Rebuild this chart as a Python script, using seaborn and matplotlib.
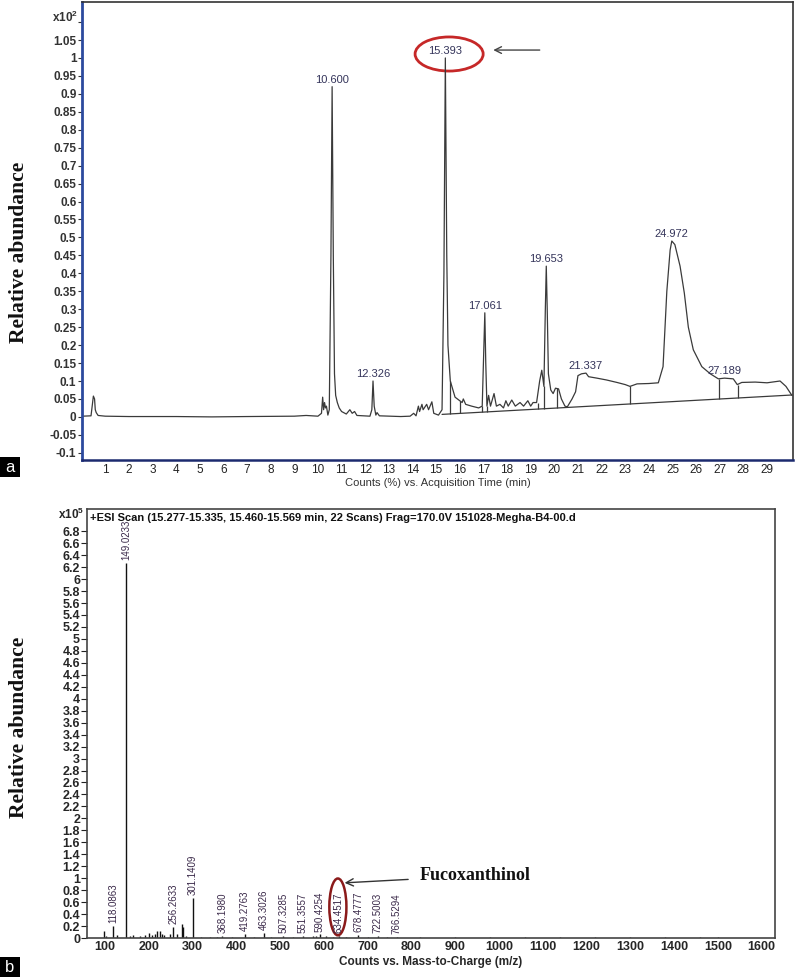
# -*- coding: utf-8 -*-
# LC chromatogram (a) and ESI mass spectrum (b) of the 15.39 min peak

import numpy as np
import pandas as pd
import matplotlib
matplotlib.use("Agg")
import matplotlib.pyplot as plt
from matplotlib.patches import Ellipse, Rectangle
import seaborn as sns

### 1) Data

# (a) chromatogram: retention time (min) and relative abundance (x10^2)
rt_min = [0.05, 0.40, 0.45, 0.50, 0.55, 0.58, 0.62, 0.70, 1.0, 2.0, 4.0, 5.5, 7.0, 9.0, 9.5,
          10.0, 10.15, 10.2, 10.24, 10.28, 10.32, 10.36, 10.42, 10.48, 10.55, 10.6, 10.65,
          10.7, 10.75, 10.82, 10.9, 11.0, 11.2, 11.35, 11.45, 11.55, 11.65, 12.2, 12.28,
          12.33, 12.38, 12.45, 12.5, 12.6, 13.5, 13.9, 14.05, 14.15, 14.25, 14.3, 14.4,
          14.45, 14.6, 14.68, 14.82, 14.9, 15.1, 15.25, 15.33, 15.39, 15.45, 15.5, 15.6,
          15.8, 16.0, 16.1, 16.15, 16.25, 16.5, 16.8, 16.95, 17.02, 17.06, 17.1, 17.15,
          17.22, 17.3, 17.45, 17.55, 17.7, 17.85, 17.95, 18.05, 18.2, 18.35, 18.55, 18.7,
          18.88, 19.0, 19.1, 19.25, 19.38, 19.47, 19.56, 19.62, 19.66, 19.7, 19.75, 19.85,
          19.95, 20.05, 20.18, 20.3, 20.45, 20.55, 20.75, 20.9, 21.0, 21.15, 21.34, 21.45,
          21.8, 22.2, 22.65, 23.0, 23.2, 23.5, 24.0, 24.4, 24.6, 24.76, 24.9, 24.97, 25.1,
          25.32, 25.5, 25.67, 25.88, 26.24, 26.6, 26.94, 27.2, 27.57, 27.74, 27.93, 28.5,
          29.0, 29.55, 29.8, 30.05]
abund = [0.002, 0.003, 0.03, 0.058, 0.05, 0.02, 0.012, 0.004, 0.002, 0.001, 0.001, 0.0, 0.001, 0.002, 0.004,
         0.002, 0.01, 0.055, 0.02, 0.04, 0.025, 0.03, 0.005, 0.02, 0.45, 0.92, 0.45,
         0.12, 0.06, 0.04, 0.025, 0.015, 0.008, 0.02, 0.01, 0.015, 0.004, 0.002, 0.02,
         0.10, 0.03, 0.005, 0.012, 0.003, 0.001, 0.002, 0.01, 0.003, 0.03, 0.015, 0.035,
         0.02, 0.035, 0.02, 0.042, 0.01, 0.005, 0.02, 0.4, 1.0, 0.45, 0.2, 0.10,
         0.055, 0.045, 0.04, 0.05, 0.035, 0.03, 0.025, 0.03, 0.2, 0.29, 0.15, 0.03,
         0.06, 0.03, 0.065, 0.03, 0.035, 0.025, 0.045, 0.03, 0.047, 0.03, 0.04, 0.03,
         0.045, 0.03, 0.04, 0.04, 0.10, 0.13, 0.085, 0.3, 0.42, 0.3, 0.12, 0.075,
         0.065, 0.08, 0.078, 0.05, 0.03, 0.028, 0.05, 0.07, 0.115, 0.12, 0.122, 0.112,
         0.108, 0.103, 0.096, 0.09, 0.085, 0.092, 0.093, 0.095, 0.14, 0.35, 0.465, 0.49, 0.48,
         0.42, 0.345, 0.25, 0.187, 0.14, 0.12, 0.106, 0.108, 0.106, 0.09, 0.096, 0.097,
         0.095, 0.10, 0.085, 0.06]

peak_rt = [10.6, 12.33, 15.39, 17.06, 19.66, 21.34, 24.97, 27.2]
peak_top = [0.92, 0.10, 1.0, 0.29, 0.42, 0.122, 0.49, 0.108]
peak_lbl = ["10.600", "12.326", "15.393", "17.061", "19.653", "21.337", "24.972", "27.189"]

# integration baseline and drop lines
base_rt = [15.25, 30.05]
base_val = [0.007, 0.061]
drop_rt = [15.6, 16.0, 16.95, 17.15, 19.3, 19.56, 20.1, 23.2, 26.98, 27.76]
drop_top = [0.10, 0.045, 0.03, 0.03, 0.04, 0.085, 0.08, 0.085, 0.106, 0.09]

# (b) mass spectrum: m/z and counts (x10^5)
ms_mz = [98, 102, 118.0863, 127, 149.0233, 157, 164, 180, 191, 200, 207, 214, 220, 226, 231,
         236, 248, 256.2633, 265, 275, 279, 286, 301.1409, 320, 340, 355, 368.198, 390,
         419.2763, 440, 463.3026, 480, 507.3285, 530, 551.3557, 575, 582, 590.4254, 605,
         620, 634.4517, 650, 678.4777, 700, 722.5003, 745, 766.5294, 820, 900, 980, 1060,
         1140, 1220, 1300, 1380, 1460, 1500]
ms_int = [0.11, 0.04, 0.20, 0.05, 6.27, 0.04, 0.05, 0.04, 0.05, 0.08, 0.05, 0.07, 0.12, 0.11, 0.06,
          0.05, 0.06, 0.19, 0.06, 0.23, 0.18, 0.04, 0.67, 0.02, 0.02, 0.02, 0.03, 0.02,
          0.07, 0.02, 0.08, 0.02, 0.04, 0.02, 0.03, 0.04, 0.03, 0.06, 0.03,
          0.02, 0.03, 0.02, 0.05, 0.02, 0.03, 0.015, 0.02, 0.015, 0.015, 0.015, 0.015,
          0.015, 0.015, 0.015, 0.015, 0.015, 0.015]
ms_lbl_mz = [118.0863, 149.0233, 256.2633, 301.1409, 368.198, 419.2763, 463.3026,
             507.3285, 551.3557, 590.4254, 634.4517, 678.4777, 722.5003, 766.5294]

chrom = pd.DataFrame({"rt": rt_min, "abund": abund})
spec = pd.DataFrame({"mz": ms_mz, "counts": ms_int})

### 2) Style
sns.set_theme(style="white")
plt.rcParams["font.family"] = ["Liberation Sans", "DejaVu Sans"]
plt.rcParams["mathtext.default"] = "regular"

fig = plt.figure(figsize=(7.98, 9.77), dpi=100)
ax1 = fig.add_axes([0.1028, 0.5292, 0.891, 0.4688])
ax2 = fig.add_axes([0.109, 0.0399, 0.862, 0.439])

### 3) Panel a - chromatogram
sns.lineplot(data=chrom, x="rt", y="abund", ax=ax1, color="#3a3a3a", lw=0.9,
             sort=False, estimator=None)
ax1.plot(base_rt, base_val, color="#3a3a3a", lw=0.9)
drop_base = np.interp(drop_rt, base_rt, base_val)
ax1.vlines(drop_rt, drop_base, drop_top, color="#3a3a3a", lw=0.9)

for t, h, s in zip(peak_rt, peak_top, peak_lbl):
    ax1.annotate(s, (t, h), xytext=(0, 1.5), textcoords="offset points",
                 ha="center", va="bottom", fontsize=8, color="#34345a")

ax1.add_patch(Ellipse((15.55, 1.011), width=2.88, height=0.095, fill=False,
                      edgecolor="#c62828", lw=2))
ax1.annotate("", xy=(17.3, 1.022), xytext=(19.5, 1.022),
             arrowprops=dict(arrowstyle="->", color="#444444", lw=1))

ax1.set_xlim(0.02, 30.1)
ax1.set_ylim(-0.12, 1.156)
yt = np.round(np.arange(-0.1, 1.101, 0.05), 2)
ax1.set_yticks(yt)
ax1.set_yticklabels([f"{v:g}" if v < 1.09 else "" for v in yt],
                    fontweight="bold", color="#333333")
ax1.set_xticks(range(1, 30))
ax1.set_xticklabels([str(v) for v in range(1, 30)], color="#222222")
ax1.tick_params(axis="y", direction="out", length=3, width=0.8, pad=1,
                labelsize=8.5, left=True, color="#333333")
ax1.tick_params(axis="x", direction="out", length=0, pad=3, labelsize=8.5)
ax1.set_xlabel("Counts (%) vs. Acquisition Time (min)", fontsize=8, labelpad=1,
               color="#333333")
ax1.set_ylabel("")
ax1.text(-0.006, 0.967, "x10$^{2}$", transform=ax1.transAxes, ha="right",
         va="center", fontsize=8.5, fontweight="bold", color="#333333")
for side in ["top", "right"]:
    ax1.spines[side].set_color("#333333")
    ax1.spines[side].set_linewidth(1.2)
ax1.spines["left"].set_color("#2c4a9e")
ax1.spines["left"].set_linewidth(2)
ax1.spines["bottom"].set_color("#1c2a6e")
ax1.spines["bottom"].set_linewidth(1.8)

### 4) Panel b - mass spectrum
ax2.vlines(spec["mz"], 0, spec["counts"], color="#111111", lw=1.0)
lookup = dict(zip(ms_mz, ms_int))
for m in ms_lbl_mz:
    ax2.annotate(f"{m:.4f}", (m, lookup[m]), xytext=(0, 2), textcoords="offset points",
                 ha="center", va="bottom", rotation=90, fontsize=7, color="#3b2a4a")

ax2.add_patch(Ellipse((632, 0.52), width=39, height=0.95, fill=False,
                      edgecolor="#8b1a1a", lw=1.8))
ax2.annotate("Fucoxanthinol", xy=(641, 0.92), xytext=(819, 1.04),
             ha="left", va="center", fontfamily="Liberation Serif", fontweight="bold",
             fontsize=13, color="#111111",
             arrowprops=dict(arrowstyle="->", color="#333333", lw=1, shrinkA=6))

ax2.set_xlim(59, 1630)
ax2.set_ylim(0, 7.17)
yt2 = np.round(np.arange(0, 6.81, 0.2), 1)
ax2.set_yticks(yt2)
ax2.set_yticklabels([f"{v:g}" for v in yt2], fontweight="bold")
ax2.set_xticks(range(100, 1601, 100))
ax2.set_xticklabels([str(v) for v in range(100, 1601, 100)], fontweight="bold")
ax2.tick_params(axis="y", direction="out", length=4, width=0.8, pad=1,
                labelsize=9, left=True, color="#222222")
ax2.tick_params(axis="x", direction="out", length=0, pad=2, labelsize=9)
ax2.set_xlabel("Counts vs. Mass-to-Charge (m/z)", fontsize=8.5, fontweight="bold")
ax2.xaxis.set_label_coords(0.5, -0.043)
ax2.text(-0.004, 0.988, "x10$^{5}$", transform=ax2.transAxes, ha="right",
         va="center", fontsize=8.5, fontweight="bold")
ax2.text(0.004, 0.992, "+ESI Scan (15.277-15.335, 15.460-15.569 min, 22 Scans) "
         "Frag=170.0V 151028-Megha-B4-00.d", transform=ax2.transAxes,
         ha="left", va="top", fontsize=8, fontweight="bold", color="#111111")
for s in ax2.spines.values():
    s.set_color("#444444")
    s.set_linewidth(1.2)

### 5) Shared labels
for yc in [252, 727]:
    fig.text(19 / 798, 1 - yc / 977, "Relative abundance", rotation=90,
             ha="center", va="center", fontfamily="Liberation Serif",
             fontweight="bold", fontsize=15.5, color="#111111")

for lbl, yc in [("a", 467), ("b", 967)]:
    fig.patches.append(Rectangle((0, 1 - (yc + 10) / 977), 20 / 798, 20 / 977,
                                 transform=fig.transFigure, facecolor="black",
                                 edgecolor="none"))
    fig.text(10 / 798, 1 - yc / 977, lbl, ha="center", va="center",
             color="white", fontsize=12)

fig.savefig("out.png", dpi=100)
